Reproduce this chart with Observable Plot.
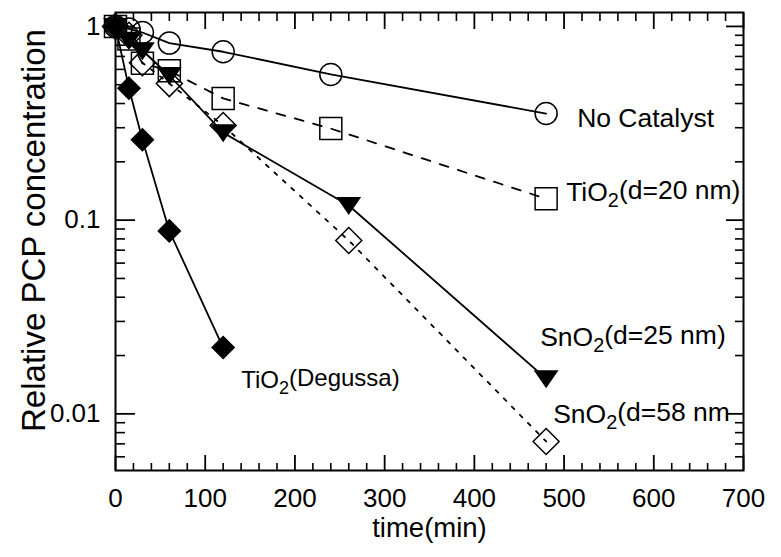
<!DOCTYPE html>
<html>
<head>
<meta charset="utf-8">
<script src="https://cdn.jsdelivr.net/npm/d3@7"></script>
<script src="https://cdn.jsdelivr.net/npm/@observablehq/plot@0.6"></script>
<style>
  html, body { margin: 0; padding: 0; background: #fff; }
  #chart svg { display: block; }
</style>
</head>
<body>
<div id="chart"></div>
<script>
// Photodegradation of PCP: relative concentration vs irradiation time
const timeNoCatalyst = [0, 15, 30, 60, 120, 240, 480];
const concNoCatalyst = [1.0, 0.97, 0.93, 0.82, 0.74, 0.565, 0.355];

const timeTiO2Small = [0, 15, 30, 60, 120, 240, 480];
const concTiO2Small = [1.0, 0.86, 0.645, 0.59, 0.425, 0.297, 0.129];

const timeSnO2Small = [0, 15, 30, 60, 120, 260, 480];
const concSnO2Small = [1.0, 0.85, 0.75, 0.558, 0.283, 0.119, 0.0152];

const timeSnO2Large = [0, 15, 30, 60, 120, 260, 480];
const concSnO2Large = [1.0, 0.9, 0.65, 0.507, 0.308, 0.0785, 0.0072];

const timeDegussa = [0, 15, 30, 60, 120];
const concDegussa = [1.0, 0.48, 0.26, 0.088, 0.022];

const seriesNames = ["No Catalyst", "TiO2(d=20 nm)", "SnO2(d=25 nm)", "SnO2(d=58 nm", "TiO2(Degussa)"];

const xTickLabels = [0, 100, 200, 300, 400, 500, 600, 700];
const yTickLabels = [0.01, 0.1, 1];

const rows = (times, concs) => times.map((t, i) => ({t, c: concs[i]}));
const last = (arr) => arr[arr.length - 1];

// marker shapes (size = r² π as passed by Plot)
const half = (size) => Math.sqrt(size / Math.PI);
const squareSym = {draw(ctx, size) { const s = half(size); ctx.rect(-s, -s, 2 * s, 2 * s); }};
const diamondSym = {draw(ctx, size) { const s = half(size); ctx.moveTo(0, -s); ctx.lineTo(s, 0); ctx.lineTo(0, s); ctx.lineTo(-s, 0); ctx.closePath(); }};
const downTriSym = {draw(ctx, size) { const s = half(size); ctx.moveTo(-s, -0.7 * s); ctx.lineTo(s, -0.7 * s); ctx.lineTo(0, 0.75 * s); ctx.closePath(); }};

// minor tick positions
const xMinor = d3.range(0, 701, 20);
const yMinor = [];
for (const base of [0.001, 0.01, 0.1]) for (let k = 1; k <= 9; k++) yMinor.push(base * k);
const yDomain = [0.0051, 1.18];
const yMinorIn = yMinor.filter(v => v >= yDomain[0] && v <= yDomain[1] && !yTickLabels.includes(+v.toPrecision(3)));

const font = "'Liberation Sans', Arial, Helvetica, sans-serif";
const blank = () => "";

const series = [
  {data: rows(timeNoCatalyst, concNoCatalyst), symbol: "circle", r: 11, fill: "none", dash: null, name: seriesNames[0], dx: 31, dy: 5, size: 26.5},
  {data: rows(timeTiO2Small, concTiO2Small), symbol: squareSym, r: 11, fill: "none", dash: "9,10", name: seriesNames[1], dx: 20, dy: -6, size: 26.5},
  {data: rows(timeSnO2Small, concSnO2Small), symbol: downTriSym, r: 11, fill: "black", dash: null, name: seriesNames[2], dx: -6, dy: -41, size: 26.5},
  {data: rows(timeSnO2Large, concSnO2Large), symbol: diamondSym, r: 13, fill: "none", dash: "3.5,8", name: seriesNames[3], dx: 7, dy: -27, size: 26.5},
  {data: rows(timeDegussa, concDegussa), symbol: diamondSym, r: 11, fill: "black", dash: null, name: seriesNames[4], dx: 18, dy: 33, size: 24}
];

const marks = [];
for (const s of series) {
  marks.push(Plot.line(s.data, {x: "t", y: "c", stroke: "black", strokeWidth: 1.8, strokeDasharray: s.dash}));
}
for (const s of series) {
  marks.push(Plot.dot(s.data, {x: "t", y: "c", symbol: s.symbol, r: s.r, fill: s.fill, stroke: "black", strokeWidth: 1.5}));
  marks.push(Plot.text([last(s.data)], {x: "t", y: "c", text: () => s.name, dx: s.dx, dy: s.dy, textAnchor: "start", fontSize: s.size, fill: "black"}));
}

const chart = Plot.plot({
  width: 781,
  height: 557,
  marginLeft: 115,
  marginRight: 38,
  marginTop: 12,
  marginBottom: 87,
  style: {fontFamily: font, background: "white", color: "black", overflow: "visible"},
  x: {domain: [0, 700]},
  y: {type: "log", domain: yDomain},
  marks: [
    // inward ticks on all four sides
    Plot.axisX(xMinor.filter(v => v % 100 !== 0), {anchor: "bottom", tickSize: -7, strokeWidth: 1.6, tickFormat: blank, label: null}),
    Plot.axisX(xTickLabels, {anchor: "bottom", tickSize: -15, strokeWidth: 1.8, tickFormat: blank, label: null}),
    Plot.axisX(xMinor.filter(v => v % 100 !== 0), {anchor: "top", tickSize: -8, strokeWidth: 1.6, tickFormat: blank, label: null}),
    Plot.axisX(xTickLabels, {anchor: "top", tickSize: -16, strokeWidth: 1.8, tickFormat: blank, label: null}),
    Plot.axisY(yMinorIn, {anchor: "left", tickSize: -10, strokeWidth: 1.6, tickFormat: blank, label: null}),
    Plot.axisY(yTickLabels, {anchor: "left", tickSize: -20, strokeWidth: 1.8, tickFormat: blank, label: null}),
    Plot.axisY(yMinorIn, {anchor: "right", tickSize: -9, strokeWidth: 1.6, tickFormat: blank, label: null}),
    Plot.axisY(yTickLabels, {anchor: "right", tickSize: -18, strokeWidth: 1.8, tickFormat: blank, label: null}),
    // tick labels
    Plot.axisX(xTickLabels, {anchor: "bottom", tickSize: 0, tickPadding: 18, fontSize: 26, tickFormat: d => String(d), label: null}),
    Plot.axisY(yTickLabels, {anchor: "left", tickSize: 0, tickPadding: 15, fontSize: 26, tickFormat: d => String(d), label: null}),
    // axis titles
    Plot.text(["time(min)"], {text: d => d, frameAnchor: "bottom", dy: 66, fontSize: 27.5, fill: "black"}),
    Plot.text(["Relative PCP concentration"], {text: d => d, frameAnchor: "left", textAnchor: "middle", dx: -81, dy: -11, rotate: -90, fontSize: 33, fill: "black"}),
    ...marks,
    Plot.frame({stroke: "black", strokeWidth: 2})
  ]
});

// chemical formulas: render the "2" after O as a subscript
d3.select(chart).selectAll("text").each(function () {
  const el = d3.select(this);
  if (el.selectAll("tspan").size() > 0) return;
  const str = this.textContent;
  const m = str.match(/^(.*O)2(\(.*)$/);
  if (!m) return;
  el.text(null);
  el.append("tspan").text(m[1]);
  el.append("tspan").attr("dy", "0.3em").attr("font-size", "0.75em").text("2");
  el.append("tspan").attr("dy", "-0.3em").text(m[2]);
});

document.getElementById("chart").appendChild(chart);
</script>
</body>
</html>
